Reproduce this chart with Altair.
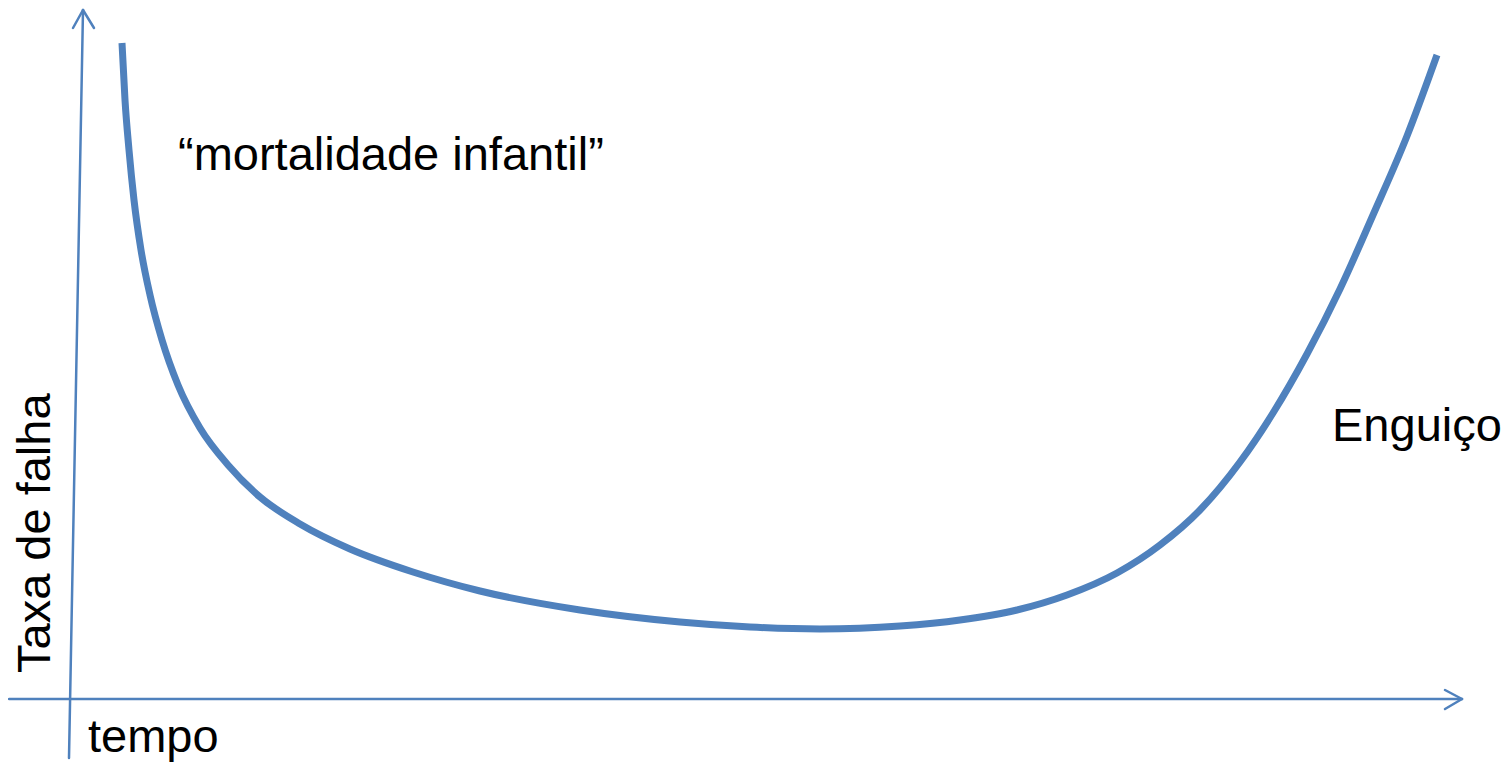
import altair as alt
import pandas as pd

# Bathtub curve (tempo vs taxa de falha)
tempo = [52, 55, 59, 64, 71, 80, 92, 108, 130, 158, 190, 230, 280, 343, 410, 510,
         610, 680, 750, 830, 890, 947, 997, 1047, 1090, 1130, 1170, 1203, 1237, 1270,
         1303, 1337, 1367]
taxa = [656, 599, 549, 499, 449, 404, 359, 314, 271, 234, 202, 175, 150, 127, 108, 89,
        77, 72, 70, 73, 79, 89, 104, 126, 154, 189, 237, 286, 345, 410,
        484, 563, 644]

# Axis lines and arrow heads (segment endpoints in data units)
seg_x1 = [-61, 1375, 1375, -1, 3, 24]
seg_y1 = [0, 9, -10, -59, 671, 671]
seg_x2 = [1392, 1392, 1392, 13, 13, 13]
seg_y2 = [0, 0, 0, 689, 689, 689]

# Labels
label_text = ["\u201cmortalidade infantil\u201d", "Enguiço", "tempo"]
label_x = [108, 1262, 18]
label_y = [529, 258, -53]
ylabel_text = ["Taxa de falha"]
ylabel_x = [-20]
ylabel_y = [26]

curve = pd.DataFrame({"tempo": tempo, "taxa": taxa})
segs = pd.DataFrame({"x1": seg_x1, "y1": seg_y1, "x2": seg_x2, "y2": seg_y2})
labels = pd.DataFrame({"t": label_text, "x": label_x, "y": label_y})
ylab = pd.DataFrame({"t": ylabel_text, "x": ylabel_x, "y": ylabel_y})

xs = alt.Scale(domain=[-62, 1433], nice=False, zero=False)
ys = alt.Scale(domain=[-67, 691], nice=False, zero=False)
BLUE = "#4F81BD"
FONT = "Liberation Sans"

axes = alt.Chart(segs).mark_rule(color=BLUE, strokeWidth=2.5, strokeCap="round").encode(
    x=alt.X("x1:Q", scale=xs, axis=None),
    y=alt.Y("y1:Q", scale=ys, axis=None),
    x2="x2:Q",
    y2="y2:Q",
)

line = alt.Chart(curve).mark_line(color=BLUE, strokeWidth=7, interpolate="monotone").encode(
    x=alt.X("tempo:Q", scale=xs, axis=None),
    y=alt.Y("taxa:Q", scale=ys, axis=None),
)

text = alt.Chart(labels).mark_text(
    font=FONT, fontSize=47, align="left", baseline="alphabetic", color="black"
).encode(
    x=alt.X("x:Q", scale=xs, axis=None),
    y=alt.Y("y:Q", scale=ys, axis=None),
    text="t:N",
)

ytext = alt.Chart(ylab).mark_text(
    font=FONT, fontSize=47, align="left", baseline="alphabetic", color="black", angle=270
).encode(
    x=alt.X("x:Q", scale=xs, axis=None),
    y=alt.Y("y:Q", scale=ys, axis=None),
    text="t:N",
)

chart = (axes + line + text + ytext).properties(
    width=1495, height=758, padding=0,
    autosize=alt.AutoSizeParams(type="none"),
).configure_view(stroke=None)

chart.save("out.html", embed_options={"renderer": "svg", "actions": False})
